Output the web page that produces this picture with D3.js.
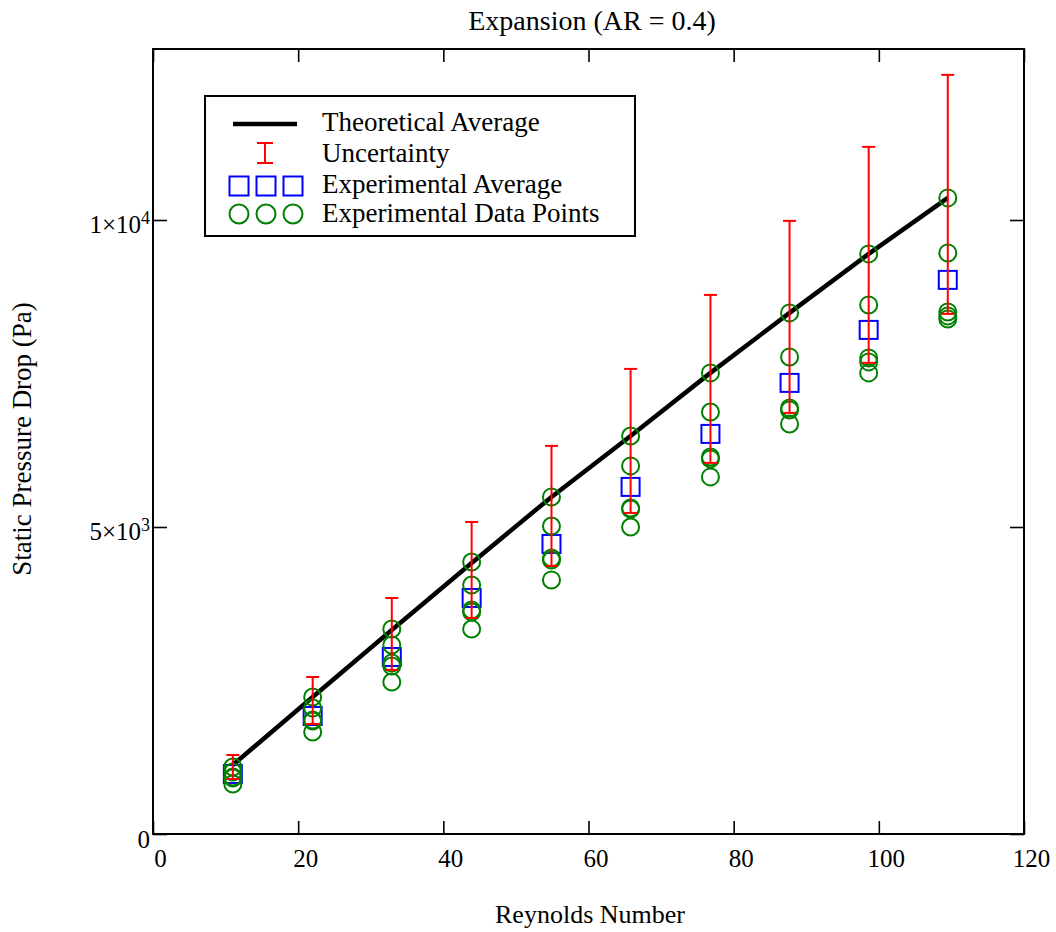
<!DOCTYPE html>
<html>
<head>
<meta charset="utf-8">
<script src="https://cdn.jsdelivr.net/npm/d3@7"></script>
<style>
  html, body { margin: 0; padding: 0; background: #fff; }
  svg { display: block; font-family: "Liberation Serif", "Times New Roman", serif; }
</style>
</head>
<body>
<svg id="chart" width="1056" height="932"></svg>
<script>
// ---- data ----
const reynolds = [11.0, 22.0, 32.9, 43.9, 54.9, 65.8, 76.8, 87.7, 98.6, 109.5];
const theoretical = [1124, 2232, 3323, 4415, 5490, 6483, 7510, 8487, 9448, 10360];
const uncertaintyHigh = [1287, 2557, 3844, 5082, 6321, 7575, 8780, 9986, 11191, 12364];
const uncertaintyLow = [896, 1792, 2672, 3519, 4366, 5229, 6044, 6858, 7673, 8471];
const experimentalAverage = [977, 1922, 2883, 3844, 4724, 5653, 6516, 7347, 8210, 9025];
const experimentalPoints = [
  [1091, 1010, 928, 912, 814],
  [2232, 2053, 1857, 1840, 1662],
  [3339, 3079, 2786, 2737, 2476],
  [4431, 4056, 3649, 3616, 3339],
  [5490, 5017, 4496, 4463, 4138],
  [6483, 5995, 5311, 5294, 5001],
  [7510, 6874, 6141, 6109, 5816],
  [8487, 7770, 6940, 6907, 6679],
  [9448, 8617, 7754, 7689, 7510],
  [10360, 9464, 8503, 8438, 8389]
];
const xTicks = [0, 20, 40, 60, 80, 100, 120];
const yTicks = [0, 5000, 10000];
const yTickLabels = [["0", ""], ["5×10", "3"], ["1×10", "4"]];
const legendLabels = ["Theoretical Average", "Uncertainty", "Experimental Average", "Experimental Data Points"];
const titleText = "Expansion (AR = 0.4)";
const xLabel = "Reynolds Number";
const yLabel = "Static Pressure Drop (Pa)";

// ---- layout ----
const svg = d3.select("#chart");
const L = 153, T = 49, R = 1024, B = 834;
const x = d3.scaleLinear().domain([0, 120]).range([L, R]);
const y = d3.scaleLinear().domain([0, 12785]).range([B, T]);
const FS = 25;

// frame
svg.append("rect").attr("x", L).attr("y", T).attr("width", R - L).attr("height", B - T)
  .attr("fill", "none").attr("stroke", "#000").attr("stroke-width", 2);

// axes
const gx = svg.append("g").attr("transform", `translate(0,${B})`)
  .call(d3.axisBottom(x).tickValues(xTicks).tickSizeInner(-13).tickSizeOuter(0).tickPadding(15));
gx.selectAll("text").attr("dx", 7).attr("font-size", FS).attr("font-family", "Liberation Serif").attr("fill", "#000");
const gxt = svg.append("g").attr("transform", `translate(0,${T})`)
  .call(d3.axisTop(x).tickValues(xTicks).tickSizeInner(-13).tickSizeOuter(0).tickFormat(""));
const gy = svg.append("g").attr("transform", `translate(${L},0)`)
  .call(d3.axisLeft(y).tickValues(yTicks).tickSizeInner(-14).tickSizeOuter(0).tickPadding(3));
gy.selectAll("text").each(function(d, i) {
  const t = d3.select(this).text(null).attr("font-size", FS).attr("font-family", "Liberation Serif")
    .attr("fill", "#000").attr("dy", "0.52em");
  const lab = yTickLabels[yTicks.indexOf(d)];
  t.append("tspan").text(lab[0]);
  if (lab[1]) t.append("tspan").attr("dy", "-0.55em").attr("font-size", FS * 0.72).text(lab[1]);
});
const gyr = svg.append("g").attr("transform", `translate(${R},0)`)
  .call(d3.axisRight(y).tickValues(yTicks).tickSizeInner(-14).tickSizeOuter(0).tickFormat(""));
[gx, gxt, gy, gyr].forEach(g => {
  g.select(".domain").remove();
  g.selectAll("line").attr("stroke", "#000").attr("stroke-width", 1.6);
});

// theoretical line
svg.append("path")
  .datum(reynolds.map((r, i) => [r, theoretical[i]]))
  .attr("fill", "none").attr("stroke", "#000").attr("stroke-width", 4.5)
  .attr("d", d3.line().x(d => x(d[0])).y(d => y(d[1])));

// experimental average squares
const sq = 18;
svg.append("g").selectAll("rect").data(reynolds).join("rect")
  .attr("x", (r) => x(r) - sq / 2)
  .attr("y", (r, i) => y(experimentalAverage[i]) - sq / 2)
  .attr("width", sq).attr("height", sq)
  .attr("fill", "none").attr("stroke", "#0000ff").attr("stroke-width", 2);

// experimental data points
const flat = [];
reynolds.forEach((r, i) => experimentalPoints[i].forEach(v => flat.push([r, v])));
svg.append("g").selectAll("circle").data(flat).join("circle")
  .attr("cx", d => x(d[0])).attr("cy", d => y(d[1])).attr("r", 8.5)
  .attr("fill", "none").attr("stroke", "#008000").attr("stroke-width", 2);

// uncertainty bars
const cap = 6.5;
const ge = svg.append("g").attr("stroke", "#ff0000").attr("stroke-width", 2);
reynolds.forEach((r, i) => {
  const cx = x(r), yt = y(uncertaintyHigh[i]), yb = y(uncertaintyLow[i]);
  ge.append("line").attr("x1", cx).attr("x2", cx).attr("y1", yt).attr("y2", yb);
  ge.append("line").attr("x1", cx - cap).attr("x2", cx + cap).attr("y1", yt).attr("y2", yt);
  ge.append("line").attr("x1", cx - cap).attr("x2", cx + cap).attr("y1", yb).attr("y2", yb);
});

// legend
const lg = svg.append("g");
lg.append("rect").attr("x", 205).attr("y", 96).attr("width", 430).attr("height", 140)
  .attr("fill", "#fff").attr("stroke", "#000").attr("stroke-width", 2);
const rowY = [124, 153, 186, 214];
lg.append("line").attr("x1", 233).attr("x2", 297).attr("y1", rowY[0]).attr("y2", rowY[0])
  .attr("stroke", "#000").attr("stroke-width", 4.5);
lg.append("line").attr("x1", 265).attr("x2", 265).attr("y1", 143).attr("y2", 163).attr("stroke", "#ff0000").attr("stroke-width", 2);
lg.append("line").attr("x1", 257).attr("x2", 273).attr("y1", 143).attr("y2", 143).attr("stroke", "#ff0000").attr("stroke-width", 2);
lg.append("line").attr("x1", 257).attr("x2", 273).attr("y1", 163).attr("y2", 163).attr("stroke", "#ff0000").attr("stroke-width", 2);
[239, 266, 293].forEach(cx => {
  lg.append("rect").attr("x", cx - 9.5).attr("y", rowY[2] - 9.5).attr("width", 19).attr("height", 19)
    .attr("fill", "none").attr("stroke", "#0000ff").attr("stroke-width", 2);
  lg.append("circle").attr("cx", cx).attr("cy", rowY[3]).attr("r", 9.5)
    .attr("fill", "none").attr("stroke", "#008000").attr("stroke-width", 2);
});
const textBase = [131, 162, 193, 222];
legendLabels.forEach((t, i) => {
  lg.append("text").attr("x", 322).attr("y", textBase[i]).attr("font-size", 27).text(t);
});

// titles
svg.append("text").attr("x", 592).attr("y", 30).attr("text-anchor", "middle").attr("font-size", 28).text(titleText);
svg.append("text").attr("x", 590).attr("y", 923).attr("text-anchor", "middle").attr("font-size", 26).text(xLabel);
svg.append("text").attr("transform", "translate(31,439) rotate(-90)").attr("text-anchor", "middle")
  .attr("font-size", 27).text(yLabel);
</script>
</body>
</html>
